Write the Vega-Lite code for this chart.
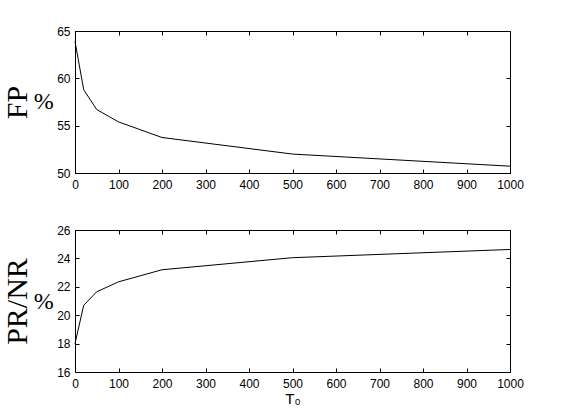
{
  "$schema": "https://vega.github.io/schema/vega-lite/v6.json",
  "background": "white",
  "padding": {"left": 1, "top": 24, "right": 5, "bottom": 5},
  "bounds": "flush",
  "spacing": 57,
  "datasets": {
    "fp": [
      {"T0": 0, "value": 63.9},
      {"T0": 20, "value": 58.8},
      {"T0": 50, "value": 56.7},
      {"T0": 100, "value": 55.4},
      {"T0": 200, "value": 53.75},
      {"T0": 500, "value": 52.0},
      {"T0": 1000, "value": 50.72}
    ],
    "pr": [
      {"T0": 0, "value": 18.0},
      {"T0": 20, "value": 20.7},
      {"T0": 50, "value": 21.65},
      {"T0": 100, "value": 22.35},
      {"T0": 200, "value": 23.2},
      {"T0": 500, "value": 24.05},
      {"T0": 1000, "value": 24.63}
    ]
  },
  "config": {
    "view": {"stroke": "black", "strokeWidth": 1},
    "axis": {
      "domainColor": "black",
      "tickColor": "black",
      "labelColor": "black",
      "labelFont": "Liberation Sans",
      "labelFontSize": 12,
      "tickSize": -4,
      "labelPadding": 10,
      "labelFlush": false,
      "labelOverlap": false,
      "grid": false,
      "titleColor": "black",
      "format": "d"
    },
    "axisY": {"labelPadding": 9}
  },
  "vconcat": [
    {
      "width": 435,
      "height": 142,
      "data": {"name": "fp"},
      "layer": [
        {
          "mark": {"type": "line", "color": "black", "strokeWidth": 1},
          "encoding": {
            "x": {"field": "T0", "type": "quantitative", "scale": {"domain": [0, 1000], "nice": false},
                  "axis": {"values": [0, 100, 200, 300, 400, 500, 600, 700, 800, 900, 1000], "title": null}},
            "y": {"field": "value", "type": "quantitative", "scale": {"domain": [50, 65], "nice": false, "zero": false},
                  "axis": {"values": [50, 55, 60, 65], "title": "FP", "titleFont": "Liberation Serif", "titleFontSize": 30,
                           "titleFontWeight": "normal", "titleBaseline": "alphabetic", "titlePadding": 30.5}}
          }
        },
        {
          "mark": {"type": "line", "opacity": 0},
          "encoding": {
            "x": {"field": "T0", "type": "quantitative", "scale": {"domain": [0, 1000], "nice": false},
                  "axis": {"orient": "top", "labels": false, "title": null, "values": [0, 100, 200, 300, 400, 500, 600, 700, 800, 900, 1000]}},
            "y": {"field": "value", "type": "quantitative", "scale": {"domain": [50, 65], "nice": false, "zero": false},
                  "axis": {"orient": "right", "labels": false, "title": null, "values": [50, 55, 60, 65]}}
          }
        },
        {
          "data": {"values": [{"s": "%"}]},
          "mark": {"type": "text", "font": "Liberation Serif", "fontSize": 24, "align": "center", "baseline": "middle", "color": "black"},
          "encoding": {
            "x": {"datum": -72, "type": "quantitative", "scale": {"domain": [0, 1000], "nice": false}, "axis": null},
            "y": {"datum": 57.5, "type": "quantitative", "scale": {"domain": [50, 65], "nice": false, "zero": false}, "axis": null},
            "text": {"field": "s"}
          }
        }
      ],
      "resolve": {"axis": {"x": "independent", "y": "independent"}}
    },
    {
      "width": 435,
      "height": 142,
      "data": {"name": "pr"},
      "layer": [
        {
          "mark": {"type": "line", "color": "black", "strokeWidth": 1},
          "encoding": {
            "x": {"field": "T0", "type": "quantitative", "scale": {"domain": [0, 1000], "nice": false},
                  "axis": {"values": [0, 100, 200, 300, 400, 500, 600, 700, 800, 900, 1000], "title": "T₀",
                           "titleFont": "Liberation Sans", "titleFontSize": 15, "titleFontWeight": "normal", "titlePadding": 2}},
            "y": {"field": "value", "type": "quantitative", "scale": {"domain": [16, 26], "nice": false, "zero": false},
                  "axis": {"values": [16, 18, 20, 22, 24, 26], "title": "PR/NR", "titleFont": "Liberation Serif", "titleFontSize": 30,
                           "titleFontWeight": "normal", "titleBaseline": "alphabetic", "titlePadding": 30.5}}
          }
        },
        {
          "mark": {"type": "line", "opacity": 0},
          "encoding": {
            "x": {"field": "T0", "type": "quantitative", "scale": {"domain": [0, 1000], "nice": false},
                  "axis": {"orient": "top", "labels": false, "title": null, "values": [0, 100, 200, 300, 400, 500, 600, 700, 800, 900, 1000]}},
            "y": {"field": "value", "type": "quantitative", "scale": {"domain": [16, 26], "nice": false, "zero": false},
                  "axis": {"orient": "right", "labels": false, "title": null, "values": [16, 18, 20, 22, 24, 26]}}
          }
        },
        {
          "data": {"values": [{"s": "%"}]},
          "mark": {"type": "text", "font": "Liberation Serif", "fontSize": 24, "align": "center", "baseline": "middle", "color": "black"},
          "encoding": {
            "x": {"datum": -72, "type": "quantitative", "scale": {"domain": [0, 1000], "nice": false}, "axis": null},
            "y": {"datum": 20.9, "type": "quantitative", "scale": {"domain": [16, 26], "nice": false, "zero": false}, "axis": null},
            "text": {"field": "s"}
          }
        }
      ],
      "resolve": {"axis": {"x": "independent", "y": "independent"}}
    }
  ]
}
